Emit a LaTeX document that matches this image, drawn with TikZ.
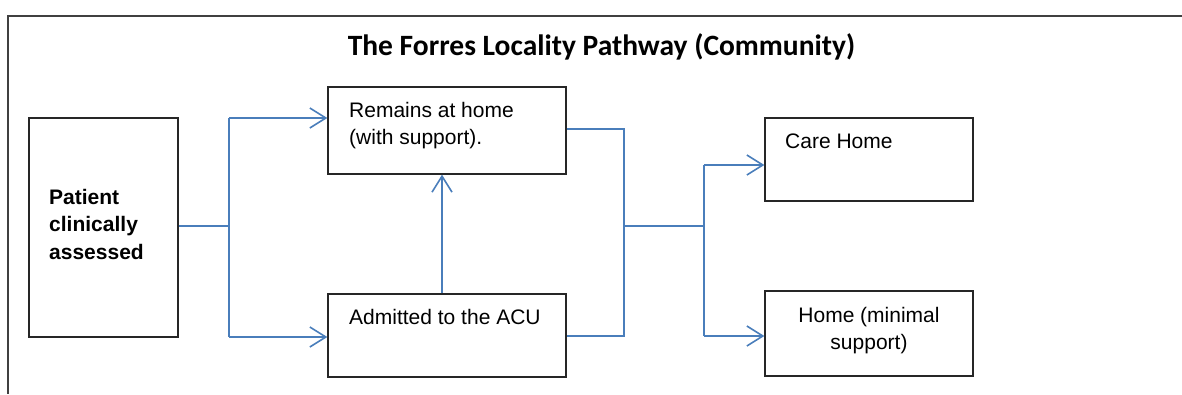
\documentclass[tikz,border=0pt]{standalone}
\usepackage{fontspec}
\setmainfont{Liberation Sans}
\newfontfamily\titlefont{Carlito}
\usetikzlibrary{arrows.meta}
\definecolor{flowblue}{HTML}{4A7EBB}
\definecolor{framegray}{HTML}{404040}

\begin{document}
\begin{tikzpicture}[x=1pt,y=-1pt,
  box/.style={draw=black!85, line width=1.3pt, inner sep=0pt, rectangle},
  flow/.style={draw=flowblue, line width=1.6pt},
  arr/.style={flow, -{Straight Barb[length=16pt,width=20pt,line width=1.6pt]}},
  txt/.style={inner sep=0pt, font=\fontsize{21}{27.5}\selectfont},
  boldtxt/.style={txt, font=\bfseries\fontsize{21}{27.5}\selectfont}
]
\useasboundingbox (0,0) rectangle (1182,394);

% outer frame (top and left edges)
\draw[framegray, line width=1.5pt] (1182,16) -- (8,16) -- (8,394);

% title
\node[inner sep=0pt, anchor=base, font=\titlefont\bfseries\fontsize{29.5}{35}\selectfont]
  (title) at (601.5,55) {The Forres Locality Pathway (Community)};

% boxes
\node[box, minimum width=149pt, minimum height=219pt] (pat)  at (103.5,227.5) {};
\node[box, minimum width=238pt, minimum height=87pt]  (rem)  at (447,130.5) {};
\node[box, minimum width=238pt, minimum height=83pt]  (acu)  at (447,335.5) {};
\node[box, minimum width=208pt, minimum height=83pt]  (care) at (869,159.5) {};
\node[box, minimum width=208pt, minimum height=85pt]  (home) at (869,333.5) {};

% box texts (base anchor sits on the last line)
\node[boldtxt, anchor=base west, align=left] (patT) at (49,259) {Patient\\clinically\\assessed};
\node[txt, anchor=base west, align=left] (remT) at (349,144.5) {Remains at home\\(with support).};
\node[txt, anchor=base west] (acuT) at (349,324) {Admitted to the ACU};
\node[txt, anchor=base west] (careT) at (785,148) {Care Home};
\node[txt, anchor=base, align=center] (homeT) at (869,349.5) {Home (minimal\\support)};

% split after assessment
\coordinate (sA) at (229,226);
\coordinate (sTop) at (229,118);
\coordinate (sBot) at (229,337);
\draw[flow] ([yshift=1.5pt]pat.east) -- (sA);
\draw[flow] (sTop) -- (sBot);
\draw[arr] (sTop) -- (sTop -| rem.west);
\draw[arr] (sBot) -- (sBot -| acu.west);

% discharge from the ACU back home
\draw[arr] ([xshift=-5pt]acu.north) -- ([xshift=-5pt]rem.south);

% merge of both outcomes
\coordinate (mTop) at (624,129);
\coordinate (mBot) at (624,336);
\coordinate (mMid) at (624,226);
\draw[flow] (mTop -| rem.east) -- (mTop) -- (mBot) -- (mBot -| acu.east);

% split to final destinations
\coordinate (dMid) at (704,226);
\coordinate (dTop) at (704,165);
\coordinate (dBot) at (704,336);
\draw[flow] (mMid) -- (dMid);
\draw[flow] (dTop) -- (dBot);
\draw[arr] (dTop) -- (dTop -| care.west);
\draw[arr] (dBot) -- (dBot -| home.west);
\end{tikzpicture}
\end{document}
